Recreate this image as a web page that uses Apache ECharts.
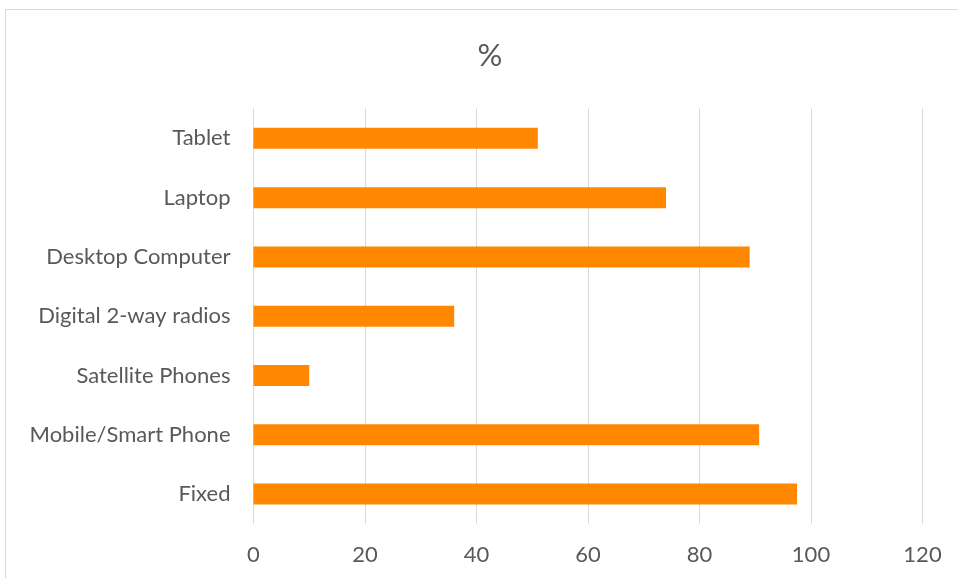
<!DOCTYPE html>
<html>
<head>
<meta charset="utf-8">
<script src="https://cdn.jsdelivr.net/npm/echarts@6/dist/echarts.min.js"></script>
<style>
  html, body { margin: 0; padding: 0; background: #fff; }
  #chart { width: 958px; height: 578px; }
</style>
</head>
<body>
<div id="chart"></div>
<script>
// Device categories, listed bottom to top
const categories = [
  'Fixed',
  'Mobile/Smart Phone',
  'Satellite Phones',
  'Digital 2-way radios',
  'Desktop Computer',
  'Laptop',
  'Tablet'
];
// Share of respondents using each device (%)
const percentValues = [97.5, 90.7, 10, 36, 89, 74, 51];
// Value axis range
const axisMin = 0;
const axisMax = 120;
const axisStep = 20;

const chart = echarts.init(document.getElementById('chart'), null, { renderer: 'canvas' });
const fontFamily = 'Lato, "Open Sans", sans-serif';

chart.setOption({
  animation: false,
  backgroundColor: '#ffffff',
  graphic: [{
    type: 'rect',
    shape: { x: 5.5, y: 9.5, width: 980, height: 600 },
    style: { fill: 'none', stroke: '#d9d9d9', lineWidth: 1 },
    silent: true
  }],
  title: {
    text: '%',
    left: 485,
    top: 35,
    textAlign: 'center',
    textStyle: { fontFamily, fontSize: 31, fontWeight: 'normal', color: '#595959' }
  },
  grid: { left: 253.5, right: 35.5, top: 108.7, bottom: 54.3, containLabel: false },
  xAxis: {
    type: 'value',
    min: axisMin,
    max: axisMax,
    interval: axisStep,
    axisLine: { show: false },
    axisTick: { show: false },
    splitLine: { lineStyle: { color: '#d9d9d9', width: 1 } },
    axisLabel: { fontFamily, fontSize: 22, color: '#595959', margin: 20 }
  },
  yAxis: {
    type: 'category',
    data: categories,
    axisLine: { show: false },
    axisTick: { show: false },
    axisLabel: { fontFamily, fontSize: 22, color: '#595959', margin: 23 }
  },
  series: [{
    type: 'bar',
    data: percentValues,
    barWidth: 21,
    itemStyle: { color: '#ff8800' }
  }]
});
</script>
</body>
</html>
